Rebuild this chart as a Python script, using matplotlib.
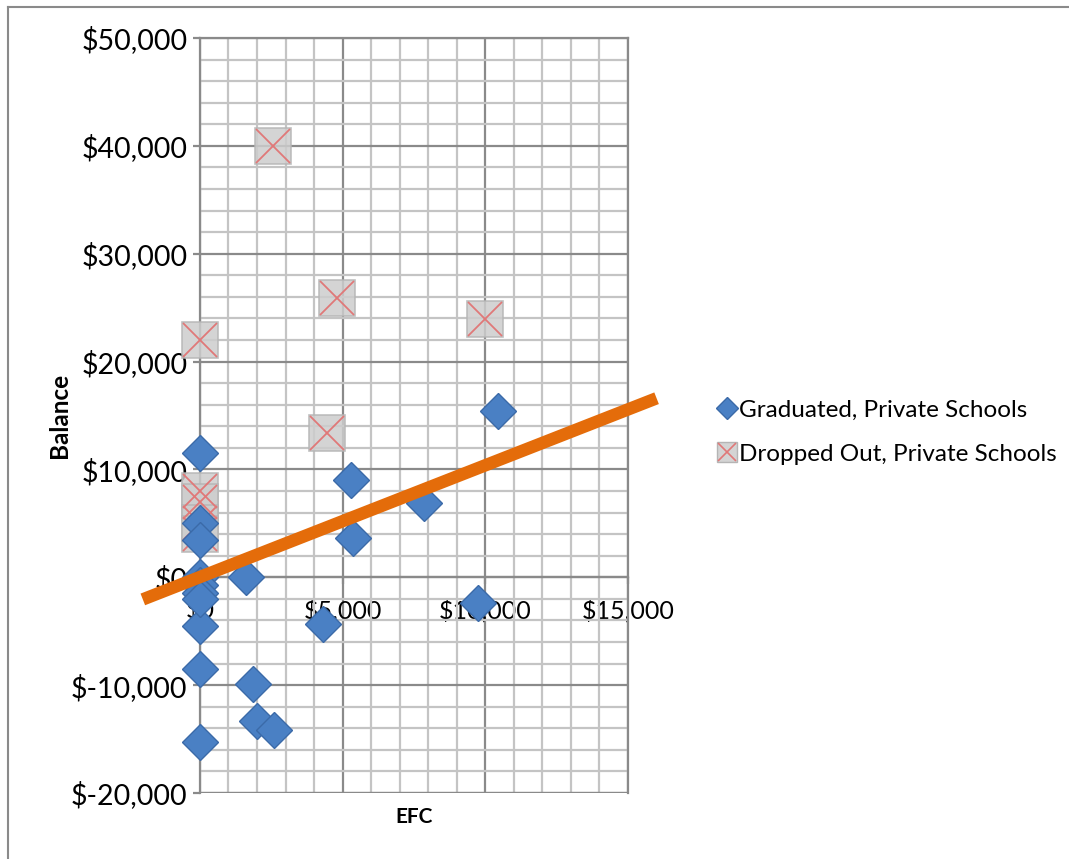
import matplotlib.pyplot as plt
from matplotlib.ticker import MultipleLocator, FuncFormatter
from matplotlib.lines import Line2D

plt.rcParams['font.family'] = ['Lato', 'DejaVu Sans']

# Graduated, Private Schools (EFC, Balance)
grad_efc = [0, 10450, 5300, 5350, 7850, 9750, 4300, 1600, 0, 0, 1850, 2000, 2600, 0,
            0, 0, 0, 0, 0, 0]
grad_bal = [11500, 15400, 9000, 3600, 6900, -2400, -4300, 0, -4500, -8500, -9900, -13300, -14200, -15300,
            5000, 3500, 0, -700, -1500, -2000]

# Dropped Out, Private Schools
drop_efc = [2550, 4800, 10000, 0, 4450, 0, 0, 0, 0]
drop_bal = [40000, 25900, 23900, 22000, 13400, 8000, 7000, 5000, 4000]

# trend line
trend_x = [-2000, 16000]
trend_y = [-2050, 16600]

fig = plt.figure(figsize=(10.69, 8.59), dpi=100)
ax = fig.add_axes([0.187, 0.0768, 0.4005, 0.879])

ax.set_xlim(0, 15000)
ax.set_ylim(-20000, 50000)

ax.xaxis.set_major_locator(MultipleLocator(5000))
ax.xaxis.set_minor_locator(MultipleLocator(1000))
ax.yaxis.set_major_locator(MultipleLocator(10000))
ax.yaxis.set_minor_locator(MultipleLocator(2000))
fmt = FuncFormatter(lambda v, p: f"${int(v):,}")
ax.xaxis.set_major_formatter(fmt)
ax.yaxis.set_major_formatter(fmt)

ax.grid(which='minor', color='#c4c4c4', linewidth=1.6, zorder=0)
ax.grid(which='major', color='#8a8a8a', linewidth=1.6, zorder=0)
ax.set_axisbelow(True)

for s in ['top', 'right', 'left']:
    ax.spines[s].set_color('#8a8a8a')
    ax.spines[s].set_linewidth(1.6)
ax.spines['bottom'].set_position(('data', 0))
ax.spines['bottom'].set_color('#8a8a8a')
ax.spines['bottom'].set_linewidth(1.6)
# bottom boundary line at -20,000
ax.axhline(-20000, color='#8a8a8a', linewidth=1.6, zorder=1)

ax.tick_params(axis='both', which='major', length=5, color='#8a8a8a', width=1.6)
ax.tick_params(axis='both', which='minor', length=0)
ax.tick_params(axis='x', labelsize=18, pad=10)
ax.tick_params(axis='y', labelsize=20.5, pad=4)

# dropped out markers
ax.plot(drop_efc, drop_bal, linestyle='none', marker='s', markersize=26,
        markerfacecolor='#cdcdcd', markeredgecolor='#b5b5b5', markeredgewidth=1.2,
        alpha=0.85, zorder=3, clip_on=False)
ax.plot(drop_efc, drop_bal, linestyle='none', marker='x', markersize=25,
        markeredgecolor='#e07878', markeredgewidth=1.3, zorder=4, clip_on=False)

# graduated markers
ax.plot(grad_efc, grad_bal, linestyle='none', marker='D', markersize=18.5,
        markerfacecolor='#4a80c4', markeredgecolor='#3b6aa8', markeredgewidth=1,
        zorder=5, clip_on=False)

ax.plot(trend_x, trend_y, color='#e46c0a', linewidth=9, solid_capstyle='butt',
        zorder=6, clip_on=False)

ax.set_xlabel('EFC', fontsize=15, fontweight='bold', labelpad=0)
ax.xaxis.set_label_coords(0.5, -0.018)
ax.set_ylabel('Balance', fontsize=17.5, fontweight='bold')
ax.yaxis.set_label_coords(-0.30, 0.5)

grad_handle = Line2D([], [], linestyle='none', marker='D', markersize=11,
                     markerfacecolor='#4a80c4', markeredgecolor='#3b6aa8')
drop_box = Line2D([], [], linestyle='none', marker='s', markersize=14,
                  markerfacecolor='#d4d4d4', markeredgecolor='#b5b5b5')
drop_x = Line2D([], [], linestyle='none', marker='x', markersize=13,
                markeredgecolor='#e07878', markeredgewidth=1.2)
fig.legend([grad_handle, (drop_box, drop_x)],
           ['Graduated, Private Schools', 'Dropped Out, Private Schools'],
           loc='upper left', bbox_to_anchor=(0.652, 0.56), frameon=False,
           fontsize=17.5, handlelength=0.7, handletextpad=0.12, labelspacing=0.95)

# chart border (top and left)
fig.add_artist(Line2D([8 / 1069, 8 / 1069], [0, 1 - 7 / 859], color='#8a8a8a', linewidth=1.5))
fig.add_artist(Line2D([8 / 1069, 1], [1 - 7 / 859, 1 - 7 / 859], color='#8a8a8a', linewidth=1.5))

fig.savefig('out.png', dpi=100)
